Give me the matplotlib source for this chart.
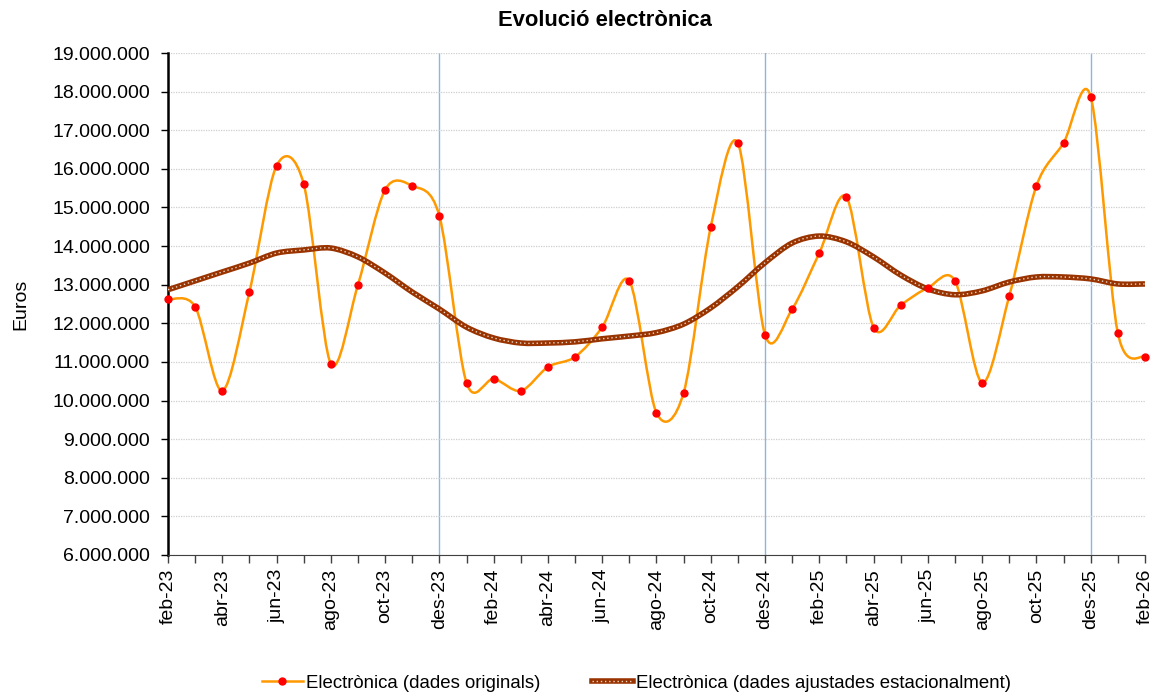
import numpy as np
import matplotlib
matplotlib.use("Agg")
import matplotlib.pyplot as plt
from matplotlib.path import Path
from matplotlib.patches import PathPatch
from matplotlib.lines import Line2D
from matplotlib.ticker import FuncFormatter, MultipleLocator

plt.rcParams['font.family'] = ['Liberation Sans', 'DejaVu Sans']

# months feb-23 .. feb-26
months = ['feb-23', 'mar-23', 'abr-23', 'mai-23', 'jun-23', 'jul-23', 'ago-23', 'set-23',
          'oct-23', 'nov-23', 'des-23', 'gen-24', 'feb-24', 'mar-24', 'abr-24', 'mai-24',
          'jun-24', 'jul-24', 'ago-24', 'set-24', 'oct-24', 'nov-24', 'des-24', 'gen-25',
          'feb-25', 'mar-25', 'abr-25', 'mai-25', 'jun-25', 'jul-25', 'ago-25', 'set-25',
          'oct-25', 'nov-25', 'des-25', 'gen-26', 'feb-26']

# millions of euros
originals = [12.62, 12.43, 10.25, 12.81, 16.08, 15.61, 10.95, 13.00, 15.46, 15.56,
             14.78, 10.46, 10.56, 10.25, 10.87, 11.13, 11.90, 13.10, 9.68, 10.20,
             14.50, 16.67, 11.70, 12.37, 13.82, 15.27, 11.89, 12.47, 12.92, 13.10,
             10.46, 12.71, 15.56, 16.67, 17.87, 11.75, 11.13]

ajustades = [12.87, 13.10, 13.33, 13.56, 13.82, 13.90, 13.95, 13.72, 13.30, 12.81,
             12.37, 11.90, 11.62, 11.49, 11.49, 11.52, 11.60, 11.67, 11.76, 11.98,
             12.40, 12.95, 13.57, 14.08, 14.26, 14.11, 13.72, 13.25, 12.89, 12.74,
             12.84, 13.07, 13.20, 13.20, 13.15, 13.02, 13.02]

dec_marks = ['des-23', 'des-24', 'des-25']


def smooth_path(xs, ys, k=6.5):
    # Catmull-Rom segments as cubic Bezier (like Excel's smoothed line)
    pts = np.column_stack([xs, ys])
    n = len(pts)
    verts = [pts[0]]
    codes = [Path.MOVETO]
    for i in range(n - 1):
        p0 = pts[max(i - 1, 0)]
        p1 = pts[i]
        p2 = pts[i + 1]
        p3 = pts[min(i + 2, n - 1)]
        c1 = p1 + (p2 - p0) / k
        c2 = p2 - (p3 - p1) / k
        verts += [c1, c2, p2]
        codes += [Path.CURVE4] * 3
    return Path(verts, codes)


x = np.arange(len(months))
orig = np.array(originals) * 1e6
adj = np.array(ajustades) * 1e6

fig = plt.figure(figsize=(11.57, 6.98), dpi=100)
ax = fig.add_axes([0.1452, 0.2049, 0.9896 - 0.1452, 0.924 - 0.2049])

ax.set_xlim(0, len(months) - 1)
ax.set_ylim(6e6, 19e6)

ax.yaxis.set_major_locator(MultipleLocator(1e6))
ax.yaxis.set_major_formatter(FuncFormatter(lambda v, p: '{:,.0f}'.format(v).replace(',', '.')))
ax.grid(axis='y', color='#cfcfcf', linestyle=(0, (1, 1)), linewidth=0.9, zorder=0)

for m in dec_marks:
    ax.axvline(months.index(m), color='#8db4e2', linewidth=1.0, zorder=1)

ax.add_patch(PathPatch(smooth_path(x, orig), facecolor='none', edgecolor='#ff9900',
                       linewidth=1.8, zorder=2))
ax.add_patch(PathPatch(smooth_path(x, adj), facecolor='none', edgecolor='#993300',
                       linewidth=4.0, zorder=3, capstyle='butt'))
ax.add_patch(PathPatch(smooth_path(x, adj), facecolor='none', edgecolor='#e8d6c6',
                       linewidth=1.0, linestyle=(0, (1, 2)), zorder=4))
ax.plot(x, orig, linestyle='none', marker='o', markersize=5, color='#ff0000',
        clip_on=False, zorder=5)

ax.set_xticks(x)
ax.set_xticklabels([m if i % 2 == 0 else '' for i, m in enumerate(months)],
                   rotation=90, fontsize=14)
ax.tick_params(axis='y', labelsize=14, length=5, width=1, direction='out', pad=8)
ax.tick_params(axis='x', length=6, width=1, direction='out', color='#404040', pad=4)

for s in ['top', 'right']:
    ax.spines[s].set_visible(False)
ax.spines['left'].set_linewidth(1.8)
ax.spines['bottom'].set_color('#404040')

ax.set_ylabel('Euros', fontsize=14, labelpad=16)
fig.text(0.523, 0.971, 'Evolució electrònica', ha='center', va='center',
         fontsize=15.8, fontweight='bold')

h1 = Line2D([], [], color='#ff9900', linewidth=1.8, marker='o', markersize=5,
            markerfacecolor='#ff0000', markeredgecolor='#ff0000', markevery=[1])
h2a = Line2D([], [], color='#993300', linewidth=4.0)
h2b = Line2D([], [], color='#e8d6c6', linewidth=1.0, linestyle=(0, (1, 2)))
fig.legend([h1, (h2a, h2b)],
           ['Electrònica (dades originals)', 'Electrònica (dades ajustades estacionalment)'],
           loc='center', bbox_to_anchor=(0.55, 0.021), ncol=2, frameon=False,
           fontsize=13.4, handlelength=2.2, handletextpad=0.15, columnspacing=2.8)

fig.savefig('out.png', dpi=100)
